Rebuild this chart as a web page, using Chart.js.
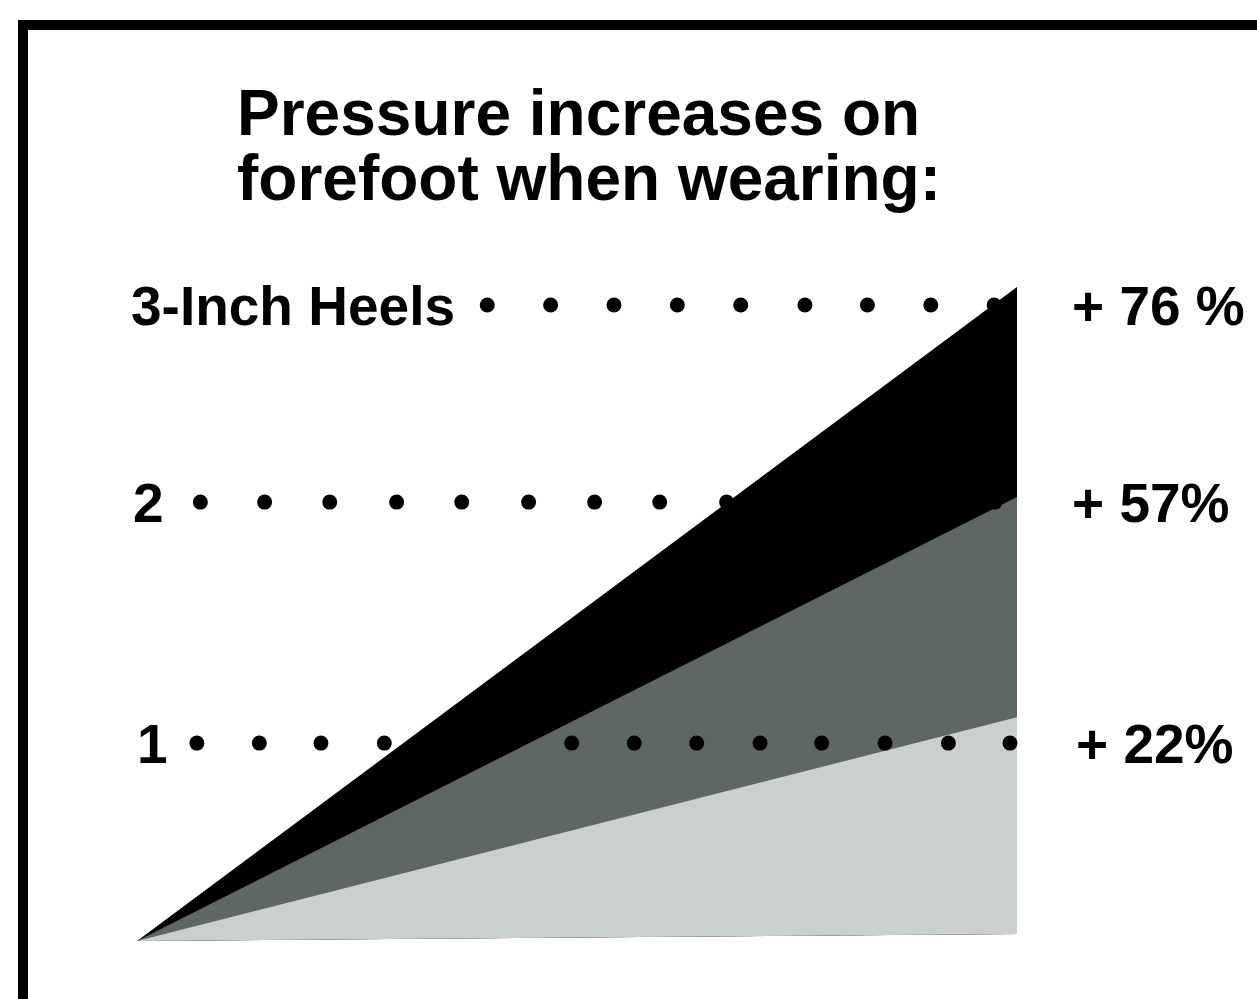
<!DOCTYPE html>
<html>
<head>
<meta charset="utf-8">
<script src="https://cdn.jsdelivr.net/npm/chart.js@4.4.1/dist/chart.umd.min.js"></script>
<style>
  html, body { margin: 0; padding: 0; background: #ffffff; overflow: hidden; }
  #wrap { position: relative; width: 1257px; height: 999px; }
</style>
</head>
<body>
<div id="wrap"><canvas id="c"></canvas></div>
<script>
// ---- data ----
const titleLines = ['Pressure increases on', 'forefoot when wearing:'];
const categories = ['3-Inch Heels', '2', '1'];
const pressureLabels = ['+ 76 %', '+ 57%', '+ 22%'];
// wedge top heights at the right end (pressure scale, 0 = apex), order: 3-inch, 2, 1
const wedgeTops = [76, 51.6, 26.0];
const wedgeBaseEnd = 0.8;
const wedgeX = [0, 1];
// dotted guide levels
const dotLevels = [73.9, 51.0, 23.0];
// dot positions along each guide (0 = apex, 1 = right edge of wedges)
const dotsHeels3 = [0.398, 0.470, 0.542, 0.614, 0.686, 0.759, 0.830, 0.902, 0.974];
const dotsHeels2 = [0.072, 0.145, 0.219, 0.295, 0.369, 0.445, 0.520, 0.594, 0.670, 0.745, 0.819, 0.894, 0.975];
const dotsHeels1 = [0.068, 0.139, 0.209, 0.281, 0.352, 0.424, 0.494, 0.565, 0.636, 0.708, 0.778, 0.850, 0.922, 0.992];

// colours for 3-inch, 2, 1
const wedgeColors = ['#000000', '#5f6765', '#c9d0cd'];

const dotRows = [dotsHeels3, dotsHeels2, dotsHeels1];
const dotDatasets = dotRows.map((row, i) => ({
  label: categories[i],
  data: row.map(x => ({ x: x, y: dotLevels[i] })),
  showLine: false,
  pointRadius: 7.5,
  pointHoverRadius: 7.5,
  pointBackgroundColor: '#000',
  pointBorderWidth: 0,
  borderColor: '#000',
  fill: false,
  order: 0
}));

const BASE_INDEX = 6;
// smallest wedge first so it is drawn on top
const wedgeDatasets = [2, 1, 0].map(i => ({
  label: pressureLabels[i],
  data: [{ x: wedgeX[0], y: 0 }, { x: wedgeX[1], y: wedgeTops[i] }],
  borderWidth: 0,
  borderColor: 'rgba(0,0,0,0)',
  backgroundColor: wedgeColors[i],
  pointRadius: 0,
  fill: BASE_INDEX,
  tension: 0,
  order: 3 - i
}));

const baseDataset = {
  label: 'base',
  data: [{ x: wedgeX[0], y: 0 }, { x: wedgeX[1], y: wedgeBaseEnd }],
  borderWidth: 0,
  borderColor: 'rgba(0,0,0,0)',
  pointRadius: 0,
  fill: false,
  order: 10
};

const textPlugin = {
  id: 'texts',
  beforeDraw(chart) {
    const ctx = chart.ctx;
    ctx.save();
    ctx.fillStyle = '#ffffff';
    ctx.fillRect(0, 0, chart.width, chart.height);
    ctx.restore();
  },
  afterDraw(chart) {
    const ctx = chart.ctx;
    const ys = chart.scales.y;
    ctx.save();
    // frame
    ctx.fillStyle = '#000';
    ctx.fillRect(18, 20, chart.width, 10);
    ctx.fillRect(18, 20, 10, chart.height);
    // title
    ctx.fillStyle = '#000';
    ctx.textBaseline = 'alphabetic';
    ctx.textAlign = 'left';
    ctx.font = 'bold 64px "Liberation Sans", Arial, sans-serif';
    ctx.fillText(titleLines[0], 237, 135);
    ctx.fillText(titleLines[1], 237, 200);
    // row labels
    ctx.font = 'bold 55px "Liberation Sans", Arial, sans-serif';
    const leftX = [131, 133, 137];
    const rightX = [1072, 1072, 1076];
    categories.forEach((c, i) => {
      const y = ys.getPixelForValue(dotLevels[i]) + 20;
      ctx.fillText(c, leftX[i], y);
      ctx.fillText(pressureLabels[i], rightX[i], y);
    });
    ctx.restore();
  }
};

new Chart(document.getElementById('c'), {
  type: 'line',
  data: {
    datasets: [...dotDatasets, ...wedgeDatasets, baseDataset]
  },
  options: {
    responsive: true,
    maintainAspectRatio: false,
    animation: false,
    layout: { padding: 0, autoPadding: false },
    plugins: {
      legend: { display: false },
      title: { display: false },
      tooltip: { enabled: false },
      filler: { propagate: false }
    },
    scales: {
      x: { type: 'linear', display: false, min: -0.1557, max: 1.2727 },
      y: { type: 'linear', display: false, min: -6.74, max: 109.35 }
    },
    elements: { line: { tension: 0 } }
  },
  plugins: [textPlugin]
});
</script>
</body>
</html>
